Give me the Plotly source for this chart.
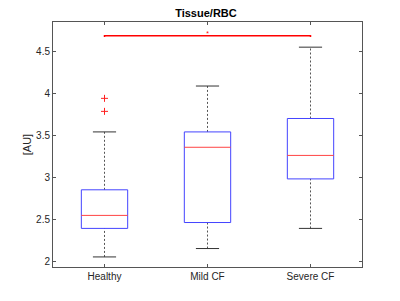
import plotly.graph_objects as go

categories = ["Healthy", "Mild CF", "Severe CF"]
positions = [1, 2, 3]
q1 = [2.39, 2.46, 2.98]
median = [2.545, 3.357, 3.26]
q3 = [2.85, 3.54, 3.70]
lower_whisker = [2.05, 2.15, 2.39]
upper_whisker = [3.54, 4.087, 4.55]
outlier_x = [1, 1]
outlier_y = [3.94, 3.785]
sig_pair = [1, 3]
sig_y = 4.686

box_half = 0.225
cap_half = 0.1125

fig = go.Figure()

for p, a, m, b, lo, hi in zip(positions, q1, median, q3, lower_whisker, upper_whisker):
    fig.add_trace(go.Scatter(x=[p, p, None, p, p], y=[b, hi, None, lo, a], mode="lines",
                             line=dict(color="#555555", width=1, dash="2px,2px"),
                             hoverinfo="skip", showlegend=False))
    fig.add_trace(go.Scatter(x=[p - cap_half, p + cap_half, None, p - cap_half, p + cap_half],
                             y=[hi, hi, None, lo, lo], mode="lines",
                             line=dict(color="#333333", width=1),
                             hoverinfo="skip", showlegend=False))
    fig.add_trace(go.Scatter(x=[p - box_half, p + box_half, p + box_half, p - box_half, p - box_half],
                             y=[a, a, b, b, a], mode="lines",
                             line=dict(color="#4444ff", width=1),
                             hoverinfo="skip", showlegend=False))
    fig.add_trace(go.Scatter(x=[p - box_half, p + box_half], y=[m, m], mode="lines",
                             line=dict(color="#ff4444", width=1),
                             hoverinfo="skip", showlegend=False))

fig.add_trace(go.Scatter(x=outlier_x, y=outlier_y, mode="markers",
                         marker=dict(symbol="cross-thin", size=5,
                                     line=dict(color="#ff2020", width=1)),
                         hoverinfo="skip", showlegend=False))

fig.add_trace(go.Scatter(x=[sig_pair[0], sig_pair[0], sig_pair[1], sig_pair[1]],
                         y=[sig_y - 0.015, sig_y, sig_y, sig_y - 0.015], mode="lines",
                         line=dict(color="#ff0000", width=1.5),
                         hoverinfo="skip", showlegend=False))
fig.add_trace(go.Scatter(x=[(sig_pair[0] + sig_pair[1]) / 2], y=[sig_y + 0.02], mode="text",
                         text=["*"], textfont=dict(color="#ff0000", size=7),
                         hoverinfo="skip", showlegend=False))

axis_common = dict(showline=True, linecolor="#555555", linewidth=1, mirror="allticks",
                   ticks="inside", ticklen=3, tickcolor="#555555", showgrid=False,
                   zeroline=False, tickfont=dict(size=10, color="#262626"))

fig.update_layout(
    width=392, height=293,
    margin=dict(l=45, r=38, t=14, b=34),
    paper_bgcolor="white", plot_bgcolor="white",
    font=dict(family="Liberation Sans, Arial, sans-serif", color="#262626"),
    title=dict(text="<b>Tissue/RBC</b>", x=0.505, xanchor="center", y=0.995, yanchor="top",
               font=dict(size=11, color="#000000")),
    xaxis=dict(range=[0.5, 3.5], tickvals=positions, ticktext=categories, **axis_common),
    yaxis=dict(range=[1.93, 4.85], tickvals=[2, 2.5, 3, 3.5, 4, 4.5],
               ticktext=["2", "2.5", "3", "3.5", "4", "4.5"],
               title=dict(text="[AU]", font=dict(size=11, color="#262626"), standoff=2),
               **axis_common),
)

fig.write_html("out.html")
